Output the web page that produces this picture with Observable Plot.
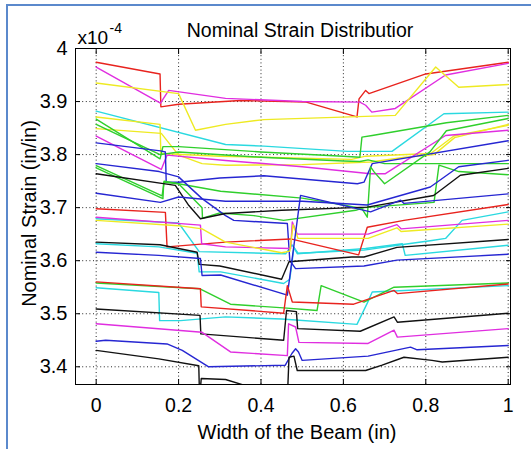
<!DOCTYPE html>
<html><head><meta charset="utf-8">
<script src="https://cdn.jsdelivr.net/npm/d3@7"></script>
<script src="https://cdn.jsdelivr.net/npm/@observablehq/plot@0.6"></script>
<style>
html,body{margin:0;padding:0;background:#fff;overflow:hidden;}
#wrap{position:relative;width:531px;height:449px;}
#border{position:absolute;left:6px;top:4px;width:600px;height:600px;border-left:2px solid #5b89cc;border-top:2px solid #5b89cc;}
#chart{position:absolute;left:0;top:0;}
</style></head><body>
<div id="wrap"><div id="border"></div><div id="chart"></div></div>
<script>
const xTicks = [0, 0.2, 0.4, 0.6, 0.8, 1];
const yTicks = [3.4, 3.5, 3.6, 3.7, 3.8, 3.9, 4];

const red1 = [[0,3.974],[0.155,3.952],[0.157,3.890],[0.2,3.895],[0.35,3.902],[0.51,3.899],[0.633,3.871],[0.638,3.905],[0.654,3.921],[0.662,3.915],[0.8,3.952],[1,3.974]];
const mag1 = [[0,3.965],[0.156,3.897],[0.176,3.921],[0.314,3.906],[0.5,3.900],[0.64,3.899],[0.654,3.893],[0.669,3.880],[0.726,3.887],[0.848,3.950],[1,3.972]];
const yel1 = [[0,3.935],[0.2,3.915],[0.241,3.846],[0.314,3.857],[0.407,3.866],[0.654,3.872],[0.726,3.874],[0.824,3.965],[0.88,3.927],[1,3.932]];
const cyan1 = [[0,3.882],[0.314,3.819],[0.407,3.816],[0.61,3.806],[0.718,3.806],[0.844,3.877],[1,3.880]];
const yel2 = [[0,3.871],[0.155,3.857],[0.157,3.802],[0.3,3.797],[0.5,3.793],[0.62,3.791],[0.654,3.797],[0.812,3.802],[0.868,3.835],[1,3.855]];
const grn1 = [[0,3.867],[0.155,3.792],[0.162,3.815],[0.2,3.815],[0.4,3.805],[0.6,3.797],[0.64,3.795],[0.645,3.833],[0.67,3.836],[0.85,3.86],[1,3.874]];
const grn2 = [[0,3.857],[0.155,3.80],[0.2,3.805],[0.4,3.795],[0.6,3.788],[0.64,3.787],[0.66,3.79],[0.7,3.783],[1,3.783]];
const yel3 = [[0,3.849],[0.158,3.84],[0.2,3.799],[0.257,3.783],[0.314,3.78],[0.5,3.781],[0.666,3.786],[0.75,3.795],[0.82,3.80],[0.87,3.832],[1,3.857]];
const mag2 = [[0,3.835],[0.158,3.772],[0.172,3.799],[0.314,3.789],[0.5,3.777],[0.666,3.764],[0.702,3.764],[0.848,3.836],[1,3.846]];
const blu1 = [[0,3.822],[0.156,3.807],[0.168,3.805],[0.17,3.748],[0.2,3.748],[0.3,3.756],[0.407,3.760],[0.634,3.745],[0.65,3.748],[0.67,3.783],[1,3.826]];
const blu2 = [[0,3.783],[0.153,3.768],[0.2,3.758],[0.257,3.717],[0.314,3.685],[0.334,3.676],[0.464,3.670],[0.47,3.60],[0.484,3.585],[0.65,3.59],[0.73,3.601],[1,3.612]];
const grn3 = [[0,3.775],[0.162,3.717],[0.164,3.748],[0.2,3.745],[0.302,3.731],[0.5,3.718],[0.6,3.705],[0.645,3.698],[0.658,3.682],[0.666,3.777],[0.675,3.767],[0.70,3.745],[0.81,3.805],[0.85,3.845],[1,3.868]];
const grn4 = [[0,3.779],[0.16,3.722],[0.165,3.75],[0.2,3.745],[0.257,3.70],[0.258,3.68],[0.3,3.69],[0.383,3.685],[0.455,3.676],[0.63,3.695],[0.65,3.70],[0.82,3.71],[0.832,3.78],[0.88,3.768],[1,3.762]];
const blk1 = [[0,3.764],[0.192,3.742],[0.225,3.704],[0.253,3.679],[0.314,3.689],[0.45,3.695],[0.658,3.701],[0.819,3.723],[0.884,3.761],[1,3.774]];
const blu3 = [[0,3.727],[0.156,3.710],[0.2,3.72],[0.314,3.712],[0.5,3.712],[0.658,3.705],[0.811,3.739],[0.88,3.777],[1,3.789]];
const red2 = [[0,3.698],[0.168,3.691],[0.172,3.626],[0.314,3.635],[0.472,3.641],[0.637,3.611],[0.658,3.663],[0.747,3.676],[1,3.706]];
const cyB = [[0,3.679],[0.2,3.671],[0.25,3.617],[0.46,3.613],[0.475,3.63],[0.49,3.614],[0.65,3.62],[0.74,3.63],[0.815,3.638],[0.848,3.642],[0.888,3.676],[1,3.692]];
const mag3 = [[0,3.682],[0.253,3.667],[0.256,3.632],[0.314,3.626],[0.472,3.623],[0.476,3.673],[0.488,3.650],[0.66,3.650],[0.73,3.668],[0.74,3.66],[1,3.676]];
const yel4 = [[0,3.676],[0.2,3.666],[0.257,3.66],[0.314,3.635],[0.45,3.615],[0.47,3.618],[0.478,3.668],[0.49,3.642],[0.66,3.642],[0.73,3.662],[0.74,3.655],[1,3.669]];
const cyA = [[0,3.632],[0.152,3.626],[0.245,3.614],[0.25,3.579],[0.302,3.579],[0.455,3.557],[0.47,3.565],[0.48,3.625],[0.488,3.613],[0.654,3.623],[0.743,3.632],[0.75,3.61],[1,3.629]];
const blk2 = [[0,3.635],[0.155,3.63],[0.245,3.616],[0.25,3.593],[0.3,3.59],[0.45,3.565],[0.468,3.598],[0.62,3.607],[0.65,3.607],[0.73,3.625],[1,3.640]];
const blu4 = [[0,3.616],[0.152,3.61],[0.253,3.604],[0.257,3.572],[0.302,3.573],[0.464,3.535],[0.496,3.723],[0.666,3.692],[0.739,3.714],[0.747,3.708],[1,3.726]];
const grn5 = [[0,3.558],[0.252,3.547],[0.326,3.518],[0.455,3.511],[0.536,3.506],[0.546,3.553],[0.65,3.522],[0.723,3.550],[1,3.558]];
const red3 = [[0,3.560],[0.253,3.547],[0.255,3.513],[0.455,3.501],[0.464,3.553],[0.476,3.522],[0.625,3.518],[0.723,3.544],[0.731,3.538],[1,3.556]];
const cyan3 = [[0,3.549],[0.152,3.54],[0.154,3.487],[0.205,3.487],[0.314,3.494],[0.45,3.49],[0.633,3.48],[0.658,3.52],[0.67,3.541],[1,3.553]];
const blk3 = [[0,3.509],[0.252,3.497],[0.254,3.462],[0.455,3.45],[0.462,3.506],[0.486,3.504],[0.489,3.472],[0.641,3.467],[0.723,3.494],[0.731,3.484],[1,3.501]];
const mag4 = [[0,3.481],[0.257,3.465],[0.326,3.428],[0.464,3.421],[0.467,3.481],[0.484,3.475],[0.492,3.446],[0.66,3.444],[0.723,3.469],[0.731,3.456],[1,3.472]];
const blu5 = [[0,3.448],[0.023,3.45],[0.172,3.443],[0.209,3.431],[0.273,3.40],[0.459,3.403],[0.475,3.425],[0.484,3.434],[0.491,3.428],[0.5,3.412],[0.66,3.42],[0.763,3.437],[0.779,3.432],[1,3.440]];
const blk4 = [[0,3.431],[0.152,3.415],[0.249,3.402],[0.251,3.34],[0.255,3.378],[0.314,3.376],[0.36,3.365],[0.40,3.355],[0.464,3.34],[0.468,3.418],[0.48,3.42],[0.488,3.393],[0.654,3.393],[0.694,3.403],[0.747,3.418],[0.815,3.412],[0.84,3.409],[1,3.418]];

const RED = "#e8231e", MAG = "#e02ee0", YEL = "#eeea22", CYN = "#2ad9e0", GRN = "#2fcf2c", BLU = "#2626d2", BLK = "#111111";

const seriesList = [
  ["cyB", CYN, cyB], ["cyA", CYN, cyA],
  ["red1", RED, red1], ["mag1", MAG, mag1], ["yel1", YEL, yel1], ["cyan1", CYN, cyan1],
  ["yel2", YEL, yel2], ["yel3", YEL, yel3], ["grn1", GRN, grn1], ["grn2", GRN, grn2],
  ["mag2", MAG, mag2], ["blu1", BLU, blu1], ["grn3", GRN, grn3], ["grn4", GRN, grn4],
  ["blu2", BLU, blu2], ["blk1", BLK, blk1], ["blu3", BLU, blu3], ["red2", RED, red2],
  ["mag3", MAG, mag3], ["yel4", YEL, yel4], ["blk2", BLK, blk2], ["blu4", BLU, blu4],
  ["cyan3", CYN, cyan3], ["grn5", GRN, grn5], ["red3", RED, red3], ["blk3", BLK, blk3],
  ["mag4", MAG, mag4], ["blu5", BLU, blu5], ["blk4", BLK, blk4]
];
const rows = seriesList.flatMap(([name, color, pts]) => pts.map(([x, y]) => ({name, color, x, y})));

const noText = () => "";
const plot = Plot.plot({
  width: 531, height: 449,
  marginLeft: 75, marginRight: 21, marginTop: 48, marginBottom: 65,
  style: {fontFamily: "'Liberation Sans', Arial, sans-serif", fontSize: "20px", background: "transparent", color: "#000", overflow: "visible"},
  x: {domain: [-0.0502, 1.0056]},
  y: {domain: [3.3666, 4.0]},
  color: {type: "identity"},
  marks: [
    Plot.gridX(xTicks, {stroke: "#000", strokeOpacity: 0.85, strokeDasharray: "1,2.6"}),
    Plot.gridY(yTicks, {stroke: "#000", strokeOpacity: 0.85, strokeDasharray: "1,2.6"}),
    Plot.line(rows, {x: "x", y: "y", z: "name", stroke: "color", strokeWidth: 1.4, clip: true}),
    Plot.frame({stroke: "#000"}),
    Plot.axisX(xTicks, {anchor: "bottom", tickSize: -5, tickFormat: noText, label: null}),
    Plot.axisX(xTicks, {anchor: "top", tickSize: -5, tickFormat: noText, label: null}),
    Plot.axisY(yTicks, {anchor: "left", tickSize: -5, tickFormat: noText, label: null}),
    Plot.axisY(yTicks, {anchor: "right", tickSize: -5, tickFormat: noText, label: null}),
    Plot.axisX(xTicks, {anchor: "bottom", tickSize: 0, tickPadding: 14, tickFormat: "~g", fontSize: 19.5, label: null}),
    Plot.axisY(yTicks, {anchor: "left", tickSize: 0, tickPadding: 8, tickFormat: "~g", fontSize: 20, label: null}),
    Plot.text(["Nominal Strain Distributior"], {text: d => d, frameAnchor: "top", dx: 7, dy: -18, fontSize: 19.5, lineAnchor: "middle"}),
    Plot.text(["Width of the Beam (in)"], {text: d => d, frameAnchor: "bottom", dx: 4, dy: 48.5, fontSize: 20, lineAnchor: "middle"}),
    Plot.text(["Nominal Strain (in/in)"], {text: d => d, frameAnchor: "left", textAnchor: "middle", rotate: -90, dx: -46, dy: -3, fontSize: 20, lineAnchor: "middle"}),
    Plot.text(["x10"], {text: d => d, frameAnchor: "top-left", textAnchor: "start", dx: 2, dy: -11, fontSize: 19, lineAnchor: "middle"}),
    Plot.text(["-4"], {text: d => d, frameAnchor: "top-left", textAnchor: "start", dx: 34, dy: -20, fontSize: 14, lineAnchor: "middle"})
  ]
});
document.getElementById("chart").appendChild(plot);
</script>
</body></html>
